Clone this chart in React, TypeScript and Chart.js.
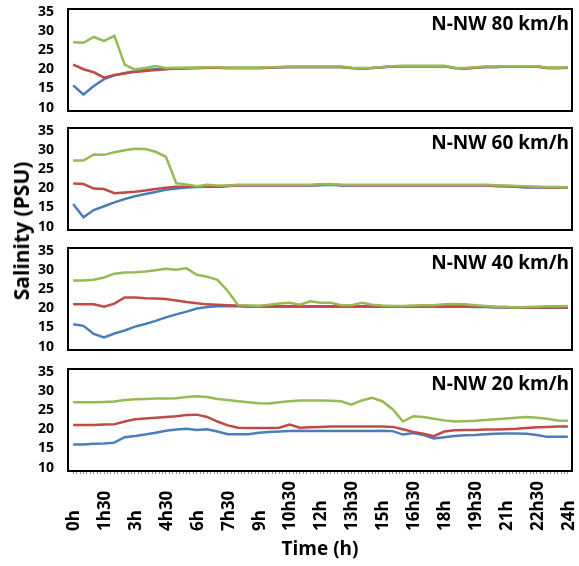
import React, { useEffect, useRef } from 'react';
import { Chart, registerables } from 'chart.js';

Chart.register(...registerables);
Chart.defaults.font.family = '"Open Sans", "DejaVu Sans", sans-serif';

// time of each sample (hours)
const hours = [0, 0.5, 1, 1.5, 2, 2.5, 3, 3.5, 4, 4.5, 5, 5.5, 6, 6.5, 7, 7.5, 8, 8.5, 9, 9.5, 10, 10.5, 11, 11.5, 12, 12.5, 13, 13.5, 14, 14.5, 15, 15.5, 16, 16.5, 17, 17.5, 18, 18.5, 19, 19.5, 20, 20.5, 21, 21.5, 22, 22.5, 23, 23.5, 24];

const xTickHours = [0, 1.5, 3, 4.5, 6, 7.5, 9, 10.5, 12, 13.5, 15, 16.5, 18, 19.5, 21, 22.5, 24];
const xTickLabels = ['0h', '1h30', '3h', '4h30', '6h', '7h30', '9h', '10h30', '12h', '13h30', '15h', '16h30', '18h', '19h30', '21h', '22h30', '24h'];
const yTicks = [10, 15, 20, 25, 30, 35];
const panelTitles = ['N-NW 80 km/h', 'N-NW 60 km/h', 'N-NW 40 km/h', 'N-NW 20 km/h'];

// N-NW 80 km/h
const green80 = [27.0, 26.9, 28.4, 27.4, 28.7, 21.2, 19.9, 20.3, 20.8, 20.3, 20.4, 20.4, 20.4, 20.5, 20.5, 20.4, 20.4, 20.4, 20.4, 20.5, 20.6, 20.7, 20.7, 20.7, 20.7, 20.7, 20.7, 20.4, 20.3, 20.4, 20.6, 20.8, 20.9, 20.9, 20.9, 20.9, 20.9, 20.4, 20.3, 20.5, 20.7, 20.7, 20.8, 20.8, 20.8, 20.8, 20.4, 20.4, 20.5];
const red80 = [21.2, 20.0, 19.2, 17.8, 18.5, 18.9, 19.3, 19.5, 19.8, 20.0, 20.2, 20.3, 20.3, 20.4, 20.4, 20.3, 20.3, 20.3, 20.3, 20.4, 20.5, 20.6, 20.6, 20.6, 20.6, 20.6, 20.6, 20.3, 20.2, 20.3, 20.5, 20.7, 20.8, 20.8, 20.8, 20.8, 20.8, 20.3, 20.2, 20.4, 20.6, 20.6, 20.7, 20.7, 20.7, 20.7, 20.3, 20.3, 20.4];
const blue80 = [15.8, 13.4, 15.6, 17.4, 18.4, 19.0, 19.5, 19.8, 20.0, 20.1, 20.2, 20.2, 20.3, 20.4, 20.4, 20.3, 20.3, 20.3, 20.3, 20.4, 20.5, 20.6, 20.6, 20.6, 20.6, 20.6, 20.6, 20.3, 20.2, 20.3, 20.5, 20.7, 20.8, 20.8, 20.8, 20.8, 20.8, 20.3, 20.2, 20.4, 20.6, 20.6, 20.7, 20.7, 20.7, 20.7, 20.3, 20.3, 20.4];

// N-NW 60 km/h
const green60 = [27.2, 27.2, 28.8, 28.7, 29.4, 29.9, 30.3, 30.2, 29.5, 28.2, 21.3, 21.0, 20.5, 20.9, 20.7, 20.7, 20.9, 20.9, 20.9, 20.9, 20.9, 20.9, 20.9, 20.9, 21.0, 21.1, 20.9, 20.9, 20.9, 20.9, 20.9, 20.9, 20.9, 20.9, 20.9, 20.9, 20.9, 20.9, 20.9, 20.9, 20.9, 20.8, 20.7, 20.6, 20.5, 20.4, 20.3, 20.3, 20.2];
const red60 = [21.2, 21.1, 19.9, 19.8, 18.7, 18.9, 19.1, 19.4, 19.8, 20.1, 20.4, 20.4, 20.4, 20.5, 20.4, 20.6, 20.8, 20.8, 20.8, 20.8, 20.8, 20.8, 20.8, 20.8, 20.9, 21.0, 20.8, 20.8, 20.8, 20.8, 20.8, 20.8, 20.8, 20.8, 20.8, 20.8, 20.8, 20.8, 20.8, 20.8, 20.8, 20.6, 20.5, 20.4, 20.3, 20.3, 20.2, 20.2, 20.2];
const blue60 = [15.9, 12.4, 14.3, 15.3, 16.3, 17.2, 17.9, 18.5, 19.0, 19.6, 19.9, 20.2, 20.3, 20.4, 20.4, 20.6, 20.7, 20.7, 20.7, 20.7, 20.7, 20.7, 20.7, 20.7, 20.8, 20.9, 20.7, 20.7, 20.7, 20.7, 20.7, 20.7, 20.7, 20.7, 20.7, 20.7, 20.7, 20.7, 20.7, 20.7, 20.7, 20.6, 20.5, 20.4, 20.2, 20.2, 20.2, 20.2, 20.2];

// N-NW 40 km/h
const green40 = [27.2, 27.2, 27.4, 28.0, 29.0, 29.3, 29.4, 29.6, 29.9, 30.3, 30.0, 30.4, 28.7, 28.2, 27.4, 24.5, 20.8, 20.7, 20.6, 20.9, 21.2, 21.4, 20.9, 21.8, 21.4, 21.4, 20.8, 20.8, 21.4, 20.9, 20.7, 20.6, 20.6, 20.7, 20.8, 20.8, 21.0, 21.1, 21.0, 20.8, 20.6, 20.4, 20.3, 20.2, 20.3, 20.4, 20.5, 20.5, 20.6];
const red40 = [21.0, 21.0, 21.0, 20.4, 21.2, 22.8, 22.8, 22.6, 22.5, 22.4, 22.0, 21.6, 21.3, 21.0, 20.9, 20.8, 20.7, 20.6, 20.6, 20.5, 20.5, 20.5, 20.5, 20.5, 20.5, 20.5, 20.5, 20.5, 20.5, 20.5, 20.5, 20.5, 20.5, 20.5, 20.5, 20.5, 20.5, 20.6, 20.5, 20.4, 20.4, 20.3, 20.3, 20.2, 20.2, 20.2, 20.2, 20.2, 20.2];
const blue40 = [15.8, 15.4, 13.3, 12.4, 13.4, 14.2, 15.2, 15.9, 16.7, 17.6, 18.4, 19.1, 19.9, 20.3, 20.5, 20.5, 20.5, 20.4, 20.4, 20.4, 20.4, 20.4, 20.4, 20.4, 20.4, 20.4, 20.4, 20.4, 20.4, 20.4, 20.4, 20.4, 20.4, 20.4, 20.4, 20.4, 20.4, 20.4, 20.4, 20.3, 20.3, 20.2, 20.1, 20.1, 20.1, 20.1, 20.1, 20.1, 20.1];

// N-NW 20 km/h
const green20 = [27.0, 27.0, 27.0, 27.1, 27.2, 27.6, 27.8, 27.9, 28.0, 28.0, 28.1, 28.4, 28.6, 28.4, 27.9, 27.6, 27.3, 27.0, 26.8, 26.7, 27.0, 27.3, 27.5, 27.5, 27.5, 27.4, 27.3, 26.4, 27.5, 28.2, 27.3, 25.2, 22.0, 23.4, 23.2, 22.7, 22.3, 22.0, 22.1, 22.2, 22.4, 22.6, 22.8, 23.0, 23.2, 23.0, 22.7, 22.3, 22.2];
const red20 = [21.1, 21.1, 21.1, 21.2, 21.3, 22.0, 22.6, 22.8, 23.0, 23.2, 23.4, 23.7, 23.8, 23.2, 22.0, 21.0, 20.4, 20.3, 20.3, 20.3, 20.4, 21.2, 20.4, 20.5, 20.6, 20.7, 20.7, 20.7, 20.7, 20.7, 20.7, 20.6, 20.0, 19.3, 18.8, 18.2, 19.4, 19.7, 19.8, 19.8, 19.9, 19.9, 20.0, 20.1, 20.3, 20.5, 20.6, 20.7, 20.7];
const blue20 = [16.0, 16.0, 16.2, 16.3, 16.5, 17.9, 18.2, 18.6, 19.1, 19.6, 19.9, 20.1, 19.8, 20.0, 19.4, 18.7, 18.7, 18.7, 19.1, 19.3, 19.4, 19.5, 19.6, 19.5, 19.5, 19.5, 19.5, 19.5, 19.5, 19.5, 19.6, 19.5, 18.6, 19.0, 18.5, 17.6, 17.9, 18.2, 18.4, 18.5, 18.7, 18.8, 18.9, 18.9, 18.8, 18.5, 18.0, 18.0, 18.0];

const GREEN = '#98b954';
const RED = '#be4b48';
const BLUE = '#4a7ebb';

const PANEL_H = 102;
const panelTops = [9, 128, 248, 369];

type PanelProps = {
  title: string;
  green: number[];
  red: number[];
  blue: number[];
  top: number;
  isBottom: boolean;
};

function Panel({ title, green, red, blue, top, isBottom }: PanelProps) {
  const ref = useRef<HTMLCanvasElement | null>(null);
  const canvasTop = top - 10;
  const canvasH = isBottom ? 566 - canvasTop : PANEL_H + 20;

  useEffect(() => {
    if (!ref.current) return;
    const minor: number[] = [];
    for (let k = 0; k <= 144; k++) minor.push(k / 6);

    const mk = (vals: number[], color: string, label: string) => ({
      label,
      data: hours.map((h, i) => ({ x: h, y: vals[i] })),
      borderColor: color,
      backgroundColor: color,
      borderWidth: 2.5,
      pointRadius: 0,
      pointHoverRadius: 0,
      tension: 0,
      fill: false,
    });

    const boxPlugin = {
      id: 'panelBox',
      afterDraw(chart: any) {
        const { ctx, chartArea } = chart;
        const { left, top: t, right, bottom } = chartArea;
        ctx.save();
        ctx.strokeStyle = '#000';
        ctx.lineWidth = 2;
        ctx.strokeRect(left, t, right - left, bottom - t);
        ctx.fillStyle = '#000';
        ctx.font = 'bold 19px "Open Sans"';
        ctx.textAlign = 'right';
        ctx.textBaseline = 'alphabetic';
        ctx.fillText(title, right - 3, t + 20.5);
        if (isBottom) {
          const xs = chart.scales.x;
          ctx.font = 'bold 17px "Open Sans"';
          ctx.textAlign = 'left';
          ctx.textBaseline = 'middle';
          xTickHours.forEach((h, i) => {
            const px = xs.getPixelForValue(h) + 1;
            ctx.save();
            ctx.translate(px, 531 - canvasTop);
            ctx.rotate(-Math.PI / 2);
            ctx.fillText(xTickLabels[i], 0, 0);
            ctx.restore();
          });
        }
        ctx.restore();
      },
    };

    const chart = new Chart(ref.current, {
      type: 'line',
      data: {
        datasets: [mk(green, GREEN, 'green'), mk(red, RED, 'red'), mk(blue, BLUE, 'blue')],
      },
      options: {
        animation: false,
        responsive: false,
        maintainAspectRatio: false,
        events: [],
        layout: { autoPadding: false, padding: { top: 10, bottom: isBottom ? 0 : 10, left: 0, right: 7 } },
        plugins: { legend: { display: false }, tooltip: { enabled: false } },
        scales: {
          x: {
            type: 'linear',
            min: -0.25,
            max: 24.2,
            display: isBottom,
            afterBuildTicks: (s: any) => {
              s.ticks = minor.map((v) => ({ value: v }));
            },
            afterFit: (s: any) => {
              s.height = isBottom ? 95 : 0;
            },
            ticks: { autoSkip: false, maxRotation: 0, minRotation: 0, padding: 0, callback: () => '' },
            grid: { drawOnChartArea: false, drawTicks: true, tickLength: 3, color: '#8c8c8c', lineWidth: 1 },
            border: { display: false },
            title: {
              display: true,
              text: 'Time (h)',
              color: '#000',
              font: { size: 19, weight: 'bold' },
              padding: { top: 0, bottom: 5 },
            },
          },
          y: {
            type: 'linear',
            min: 9.1,
            max: 35.7,
            afterBuildTicks: (s: any) => {
              s.ticks = yTicks.map((v) => ({ value: v }));
            },
            afterFit: (s: any) => {
              s.width = 68;
              s.paddingTop = 0;
              s.paddingBottom = 0;
            },
            ticks: { autoSkip: false, color: '#000', font: { size: 14, weight: 'bold' }, padding: 6 },
            grid: { display: false },
            border: { display: false },
          },
        },
      } as any,
      plugins: [boxPlugin],
    });
    return () => chart.destroy();
  }, []);

  return (
    <canvas
      ref={ref}
      width={579}
      height={canvasH}
      style={{ position: 'absolute', left: 0, top: canvasTop, width: 579, height: canvasH }}
    />
  );
}

export default function App() {
  const sets = [
    [green80, red80, blue80],
    [green60, red60, blue60],
    [green40, red40, blue40],
    [green20, red20, blue20],
  ];
  return (
    <div style={{ position: 'absolute', left: 0, top: 0, width: 579, height: 566, background: '#fff', overflow: 'hidden' }}>
      {sets.map((s, i) => (
        <Panel key={i} title={panelTitles[i]} green={s[0]} red={s[1]} blue={s[2]} top={panelTops[i]} isBottom={i === 3} />
      ))}
      <div
        style={{
          position: 'absolute',
          left: 21,
          top: 231,
          transform: 'translate(-50%, -50%) rotate(-90deg)',
          whiteSpace: 'nowrap',
          fontFamily: '"Open Sans", sans-serif',
          fontWeight: 'bold',
          fontSize: 21,
          lineHeight: '24px',
          color: '#000',
        }}
      >
        Salinity (PSU)
      </div>
    </div>
  );
}
